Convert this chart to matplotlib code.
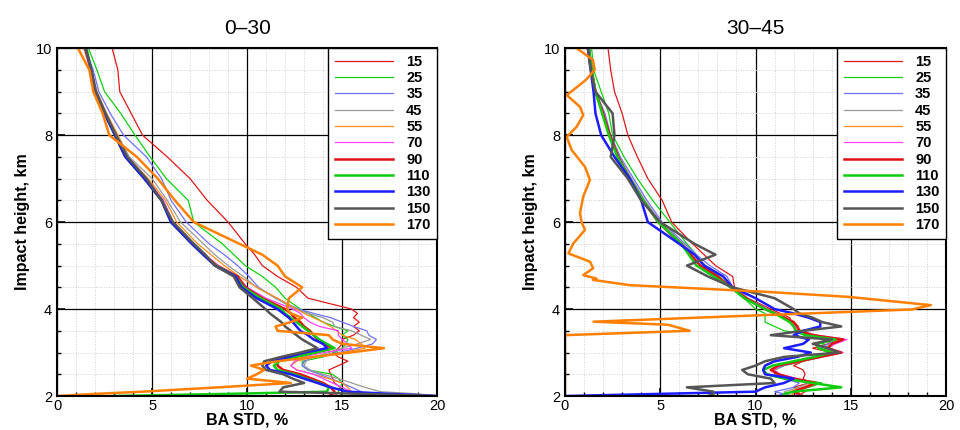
import matplotlib
matplotlib.use("Agg")
import matplotlib.pyplot as plt
from matplotlib.ticker import MultipleLocator

plt.rcParams['font.family'] = ['Liberation Sans', 'DejaVu Sans']

# impact heights (km), shared by the series of both panels
heights = [2.0, 2.05, 2.1, 2.2, 2.3, 2.4, 2.5, 2.6, 2.7, 2.8, 2.9,
           3.0, 3.1, 3.2, 3.3, 3.4, 3.5, 3.6, 3.7, 3.8, 3.9,
           4.0, 4.25, 4.5, 4.75, 5.0, 5.25, 5.5, 6.0, 6.5, 7.0, 7.5, 8.0, 8.5, 9.0, 9.5, 10.0]

labels = ['15', '25', '35', '45', '55', '70', '90', '110', '130', '150', '170']

# panel "0-30": BA STD, %
left_15 = [14.6, 14.7, 14.8, 14.9, 14.6, 14.5, 14.4, 14.3, 14.8, 15.3, 14.8,
           14.5, 14.8, 15.0, 15.0, 15.6, 15.9, 15.6, 15.9, 15.6, 15.8,
           15.5, 13.2, 12.6, 11.6, 10.8, 10.4, 9.9, 9.0, 7.9, 7.0, 5.8, 4.5, 3.9, 3.3, 3.2, 2.9]
left_25 = [15.0, 14.9, 14.8, 14.9, 15.0, 14.8, 14.5, 13.2, 12.9, 12.9, 14.0,
           14.6, 15.0, 15.2, 15.3, 15.0, 15.3, 14.6, 14.0, 13.6, 13.2,
           12.8, 12.0, 11.5, 10.8, 9.9, 9.3, 8.7, 7.2, 6.9, 5.75, 4.9, 4.1, 3.35, 2.5, 2.1, 1.65]
left_35 = [16.0, 16.0, 16.0, 15.5, 15.0, 14.4, 13.8, 13.2, 12.9, 13.0, 13.5,
           14.8, 15.8, 16.6, 16.8, 16.4, 16.3, 15.6, 15.0, 14.4, 13.5,
           12.7, 11.5, 10.6, 10.1, 9.5, 8.8, 8.0, 6.8, 6.0, 5.5, 4.7, 3.5, 2.8, 2.2, 1.9, 1.5]
left_45 = [20.0, 19.0, 17.0, 16.2, 15.5, 14.8, 14.0, 13.3, 13.0, 13.1, 13.5,
           14.3, 15.0, 15.8, 16.5, 16.0, 15.5, 14.6, 14.5, 14.0, 13.2,
           12.5, 11.5, 10.5, 9.8, 9.0, 8.3, 7.7, 6.5, 5.8, 5.0, 3.8, 3.2, 2.6, 2.1, 1.8, 1.5]
left_55 = [16.0, 15.8, 15.5, 15.3, 15.0, 14.3, 13.5, 12.6, 12.3, 12.6, 13.5,
           15.0, 16.2, 16.0, 15.7, 15.0, 14.7, 14.4, 14.0, 13.5, 13.0,
           12.6, 11.6, 10.5, 9.6, 8.8, 8.1, 7.4, 6.3, 5.7, 4.8, 3.7, 3.2, 2.6, 2.1, 1.75, 1.4]
left_70 = [15.5, 15.5, 15.5, 15.0, 14.5, 14.0, 13.5, 12.6, 12.3, 12.5, 13.0,
           14.0, 15.5, 15.3, 15.0, 14.8, 14.8, 13.8, 13.3, 13.0, 12.8,
           12.4, 11.0, 10.0, 9.5, 8.5, 7.8, 7.2, 6.1, 5.6, 4.7, 3.6, 3.1, 2.55, 2.05, 1.75, 1.45]
left_90 = [14.3, 14.5, 14.6, 14.4, 14.0, 13.4, 12.8, 11.9, 11.6, 11.6, 12.5,
           13.5, 14.5, 14.0, 13.7, 13.5, 13.3, 13.0, 12.8, 12.5, 12.3,
           12.0, 10.8, 9.9, 9.5, 8.4, 7.7, 7.1, 6.0, 5.5, 4.6, 3.6, 3.05, 2.5, 2.0, 1.8, 1.5]
left_110 = [3.0, 9.0, 14.2, 14.3, 13.8, 13.1, 12.5, 11.6, 11.4, 11.7, 12.6,
            13.6, 14.6, 14.2, 13.8, 13.5, 13.2, 12.9, 12.6, 12.3, 12.0,
            11.8, 10.7, 9.8, 9.4, 8.35, 7.7, 7.1, 6.0, 5.5, 4.6, 3.6, 3.05, 2.5, 2.0, 1.8, 1.55]
left_130 = [20.0, 17.5, 15.3, 14.4, 13.7, 13.0, 12.3, 11.2, 11.0, 11.3, 12.2,
            13.0, 14.2, 14.0, 13.5, 13.2, 12.8, 12.6, 12.4, 12.2, 11.9,
            11.6, 10.5, 9.7, 9.4, 8.3, 7.7, 7.1, 6.0, 5.5, 4.6, 3.6, 3.05, 2.5, 2.0, 1.8, 1.5]
left_150 = [20.0, 16.0, 11.7, 11.9, 13.0, 12.4, 11.9, 11.0, 10.8, 10.9, 11.8,
            12.8, 13.7, 13.3, 12.9, 12.6, 12.3, 12.0, 11.8, 11.5, 11.2,
            10.96, 10.3, 9.6, 9.3, 8.3, 7.8, 7.2, 6.1, 5.5, 4.7, 3.7, 3.1, 2.55, 2.05, 1.8, 1.5]
left_170 = [0.0, 2.0, 4.5, 8.5, 12.3, 10.0, 10.5, 10.9, 10.2, 11.6, 13.5,
            15.4, 17.2, 15.0, 14.5, 14.3, 11.6, 11.5, 12.3, 12.9, 12.3,
            12.1, 12.2, 12.9, 12.0, 11.6, 10.8, 9.6, 7.2, 6.2, 5.3, 4.2, 2.75, 2.4, 1.91, 1.7, 1.1]

# panel "30-45": BA STD, %
right_15 = [12.5, 12.4, 12.6, 12.0, 12.8, 12.5, 12.6, 12.5, 12.0, 12.5, 13.2,
            14.0, 13.0, 13.8, 14.0, 12.8, 12.3, 12.1, 11.9, 11.8, 11.3,
            10.8, 9.6, 8.9, 8.8, 7.9, 7.3, 6.7, 5.6, 5.1, 4.35, 3.8, 3.3, 3.0, 2.6, 2.4, 2.26]
right_25 = [12.5, 12.2, 12.0, 12.8, 13.5, 12.0, 11.2, 11.0, 11.5, 12.5, 13.5,
            14.2, 13.6, 13.5, 14.0, 13.0, 11.5, 11.0, 10.5, 10.5, 10.5,
            10.0, 9.4, 8.7, 8.1, 7.3, 6.9, 6.4, 5.5, 4.6, 3.8, 3.1, 2.5, 2.3, 1.9, 1.5, 1.4]
right_35 = [11.0, 11.5, 11.0, 12.0, 12.3, 11.5, 11.0, 11.0, 11.5, 12.3, 13.2,
            14.2, 13.4, 13.8, 14.3, 13.0, 12.2, 12.0, 11.8, 11.5, 11.0,
            10.6, 9.6, 8.8, 8.5, 7.6, 6.9, 6.3, 5.1, 4.3, 3.6, 2.9, 2.4, 2.1, 1.6, 1.4, 1.3]
right_45 = [11.5, 11.8, 11.5, 12.3, 12.8, 12.0, 11.3, 11.0, 11.4, 12.4, 13.3,
            14.3, 13.6, 13.9, 14.4, 13.2, 12.3, 12.1, 12.0, 11.6, 11.1,
            10.6, 9.6, 8.8, 8.3, 7.4, 6.8, 6.2, 5.0, 4.2, 3.5, 2.8, 2.35, 2.0, 1.6, 1.4, 1.25]
right_55 = [11.8, 12.0, 11.8, 12.5, 13.0, 12.0, 11.2, 10.9, 11.3, 12.3, 13.3,
            14.3, 13.7, 14.0, 14.5, 13.0, 12.2, 12.0, 11.9, 11.5, 11.0,
            10.5, 9.5, 8.7, 8.0, 7.1, 6.6, 6.0, 4.9, 4.1, 3.4, 2.8, 2.3, 2.0, 1.55, 1.35, 1.2]
right_70 = [12.0, 12.2, 12.0, 12.7, 13.2, 12.2, 11.3, 10.9, 11.3, 12.4, 13.5,
            14.6, 13.8, 14.2, 14.8, 13.2, 12.3, 12.1, 12.0, 11.6, 11.1,
            10.6, 9.5, 8.7, 8.0, 7.1, 6.6, 6.0, 4.85, 4.1, 3.4, 2.8, 2.3, 2.0, 1.55, 1.35, 1.2]
right_90 = [12.3, 12.3, 12.0, 12.6, 13.2, 12.0, 11.2, 10.8, 11.2, 12.3, 13.4,
            14.5, 13.8, 14.0, 14.6, 13.0, 12.3, 12.2, 12.0, 11.5, 11.0,
            10.5, 9.5, 8.7, 8.0, 7.1, 6.6, 6.1, 4.9, 4.1, 3.4, 2.8, 2.35, 2.0, 1.6, 1.4, 1.25]
right_110 = [11.5, 11.5, 12.0, 14.5, 13.0, 11.5, 10.6, 10.4, 10.9, 12.0, 13.1,
             14.0, 13.3, 13.2, 14.2, 12.6, 12.1, 12.0, 11.8, 11.4, 11.0,
             10.5, 9.4, 8.7, 7.8, 6.9, 6.5, 6.1, 4.9, 4.1, 3.4, 2.75, 2.3, 1.95, 1.6, 1.4, 1.25]
right_130 = [0.0, 5.0, 10.0, 10.5, 11.5, 12.0, 10.5, 10.4, 10.5, 11.0, 12.2,
             12.9, 11.5, 12.5, 12.8, 12.0, 12.5, 13.4, 13.4, 12.8, 12.0,
             11.0, 10.0, 8.8, 8.3, 7.3, 6.8, 6.0, 4.35, 4.0, 3.4, 2.6, 1.9, 1.6, 1.5, 1.35, 1.2]
right_150 = [7.5, 7.8, 7.8, 6.4, 11.0, 10.8, 9.6, 9.3, 10.0, 10.5, 11.5,
             14.4, 13.8, 13.0, 14.0, 10.8, 12.5, 14.5, 13.5, 13.0, 12.3,
             12.0, 11.0, 8.8, 7.5, 6.4, 7.9, 6.8, 5.0, 4.0, 3.3, 2.4, 2.6, 2.5, 1.6, 1.35, 1.2]
# the 170 curve of the right panel has its own heights
right_170_h = [2.0, 3.40, 3.50, 3.64, 3.71, 3.86, 3.99, 4.09, 4.28, 4.40, 4.55, 4.67,
               4.70, 4.78, 4.94, 5.09, 5.28, 5.51, 5.82, 6.0, 6.21, 6.59, 6.97, 7.27,
               7.66, 7.96, 8.19, 8.46, 8.65, 8.92, 9.27, 9.5, 9.73, 10.0]
right_170 = [0.0, 0.0, 6.55, 5.4, 1.5, 10.4, 18.2, 19.2, 14.9, 10.4, 3.4, 1.47,
             1.66, 0.96, 1.48, 1.31, 0.18, 0.44, 1.05, 0.87, 0.79, 0.96, 1.31, 1.05,
             0.35, 0.09, 0.61, 0.96, 0.79, 0.1, 1.1, 1.56, 1.47, 0.61]

colors = ['#e01818', '#10d010', '#7070ff', '#999999', '#ff8c1a', '#ff40ff',
          '#e01010', '#10cc10', '#1c1cff', '#555555', '#ff8000']
widths = [0.9, 0.9, 0.9, 0.9, 0.9, 0.9, 1.8, 1.8, 1.8, 1.8, 1.8]

left_series = [left_15, left_25, left_35, left_45, left_55, left_70,
               left_90, left_110, left_130, left_150, left_170]
right_series = [right_15, right_25, right_35, right_45, right_55, right_70,
                right_90, right_110, right_130, right_150, right_170]

fig = plt.figure(figsize=(9.6, 4.3), dpi=100)
ax1 = fig.add_axes([0.0594, 0.079, 0.396, 0.809])
ax2 = fig.add_axes([0.5885, 0.079, 0.397, 0.809])

for ax, series, title in [(ax1, left_series, '0–30'), (ax2, right_series, '30–45')]:
    for i, vals in enumerate(series):
        h = heights
        if ax is ax2 and i == 10:
            h = right_170_h
        ax.plot(vals, h, color=colors[i], linewidth=widths[i], label=labels[i])

    ax.set_xlim(0, 20)
    ax.set_ylim(2, 10)
    ax.xaxis.set_major_locator(MultipleLocator(5))
    ax.xaxis.set_minor_locator(MultipleLocator(1))
    ax.yaxis.set_major_locator(MultipleLocator(2))
    ax.yaxis.set_minor_locator(MultipleLocator(0.5))
    ax.grid(which='minor', color='#d0d0d0', linestyle=':', linewidth=0.7)
    ax.grid(which='major', color='black', linestyle='-', linewidth=0.9)
    ax.set_axisbelow(True)
    ax.tick_params(which='both', direction='in', labelsize=10.5)
    ax.tick_params(axis='x', pad=2)
    ax.tick_params(which='major', length=6, width=1.2)
    ax.tick_params(which='minor', length=3, width=1.0)
    for sp in ax.spines.values():
        sp.set_linewidth(1.5)

    ax.set_title(title, fontsize=15, pad=10)
    ax.set_xlabel('BA STD, %', fontsize=11.5, fontweight='bold', labelpad=0)
    ax.set_ylabel('Impact height, km', fontsize=11.5, fontweight='bold', labelpad=4)

    leg = ax.legend(loc='upper right', borderaxespad=0.0, fancybox=False,
                    edgecolor='black', framealpha=1.0,
                    prop={'weight': 'bold', 'size': 10.5},
                    handlelength=4.0, handletextpad=0.9, labelspacing=0.16,
                    borderpad=0.45)
    leg.get_frame().set_linewidth(1.0)

fig.savefig('out.png', dpi=100)
